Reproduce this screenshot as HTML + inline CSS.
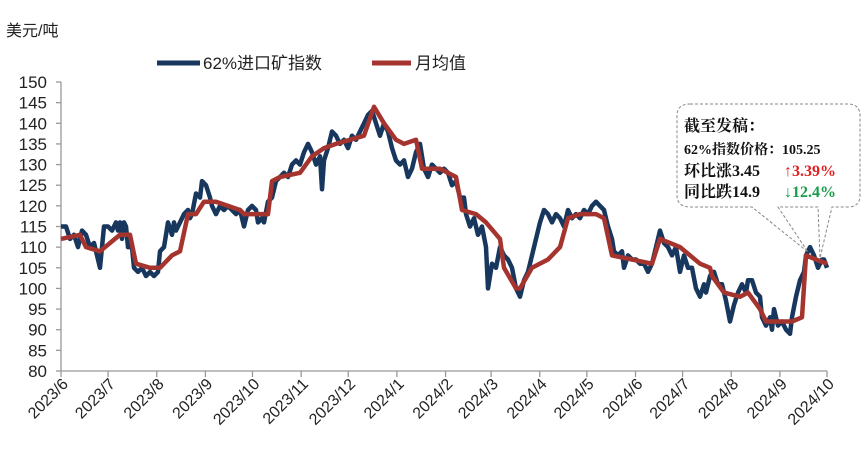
<!DOCTYPE html>
<html><head><meta charset="utf-8"><style>
body{margin:0;background:#fff;}
svg{display:block;font-family:"Liberation Sans","Noto Sans CJK SC",sans-serif;}
</style></head><body>
<svg id="s" width="865" height="457" viewBox="0 0 865 457">
<text x="6" y="36" font-size="16" fill="#222">美元/吨</text>
<line x1="157" y1="63" x2="200" y2="63" stroke="#17375e" stroke-width="5"/>
<text x="203" y="69" font-size="17" fill="#222">62%进口矿指数</text>
<line x1="372" y1="63" x2="411" y2="63" stroke="#a5342f" stroke-width="5"/>
<text x="415" y="69" font-size="17" fill="#222">月均值</text>
<g id="ax" stroke="#999" stroke-width="1.3"></g>
<g id="yl" font-size="17" fill="#222" text-anchor="end"></g>
<g id="xl" font-size="16" fill="#222" text-anchor="end"></g>
<path id="b" fill="none" stroke="#17375e" stroke-width="4.5" stroke-linejoin="round"/>
<path id="r" fill="none" stroke="#a5342f" stroke-width="4.5" stroke-linejoin="round"/>
<path d="M690,104 H848 Q860,104 860,116 V195 Q860,207 848,207 H832 L820,258 L818,207 H778 L808,252 L752,207 H690 Q677,207 677,195 V116 Q677,104 690,104 Z" fill="#fff" stroke="#888" stroke-dasharray="3,2" stroke-width="1"/>
<g font-family="'Liberation Serif','Noto Serif CJK SC',serif" font-weight="bold" font-size="16" fill="#111">
<text x="684" y="131">截至发稿：</text>
<text x="684" y="154" font-size="14">62%指数价格：105.25</text>
<text x="684" y="176">环比涨3.45</text>
<text x="784" y="176" fill="#e02020">↑3.39%</text>
<text x="684" y="197">同比跌14.9</text>
<text x="784" y="197" fill="#1a9a4a">↓12.4%</text>
</g>
</svg>
<script>
const Y=v=>82+(150-v)*289/70;
const ax=document.getElementById('ax'),yl=document.getElementById('yl'),xl=document.getElementById('xl');
let h='<line x1="61" y1="82" x2="61" y2="371"/><line x1="61" y1="371" x2="827" y2="371"/>',t='';
for(let v=80;v<=150;v+=5){const y=Y(v);h+=`<line x1="56" y1="${y}" x2="61" y2="${y}"/>`;t+=`<text x="47" y="${y+6}">${v}</text>`;}
const ms=['2023/6','2023/7','2023/8','2023/9','2023/10','2023/11','2023/12','2024/1','2024/2','2024/3','2024/4','2024/5','2024/6','2024/7','2024/8','2024/9','2024/10'];
const days=[30,31,31,30,31,30,31,31,29,31,30,31,30,31,31,30];let x=61,xs=[61];
for(const d of days){x+=d*766/488;xs.push(x);}
let xt='';xs.forEach((x,i)=>{h+=`<line x1="${x}" y1="371" x2="${x}" y2="377"/>`;xt+=`<text transform="translate(${x+8},${385}) rotate(-45)">${ms[i]}</text>`;});
ax.innerHTML=h;yl.innerHTML=t;xl.innerHTML=xt;
const B=[61,115,66,115,70,112,74,113,78,110,82,114,86,113,90,110,94,111,98,107,100,105,104,115,108,115,112,114,116,116,118,114,120,116,122,112,124,116,126,115,128,110,132,110,134,105,138,104,142,105,146,103,150,104,154,103,158,104,160,109,164,110,168,116,172,113,174,116,176,114,180,116,184,118,188,119,190,117,192,118,196,123,200,122,202,126,206,125,210,122,212,120,216,118,220,120,224,119,228,120,232,119,236,118,240,119,244,115,248,119,252,120,256,119,258,116,262,117,264,116,268,121,272,122,276,126,280,127,284,128,288,127,292,130,296,131,300,130,304,133,308,135,312,133,316,130,320,132,322,124,324,131,328,134,332,138,336,137,340,135,344,136,348,134,352,137,356,136,360,138,364,140,368,142,372,143,376,140,380,137,384,140,388,138,392,134,396,131,400,130,404,131,408,127,412,129,416,133,420,135,424,129,428,127,432,130,436,129,440,128,444,129,448,128,452,125,456,126,460,122,464,122,466,118,470,115,474,117,478,113,482,115,486,110,488,100,492,106,496,105,500,110,504,108,508,107,512,105,516,100,520,98,524,102,528,104,532,108,536,112,540,116,544,119,548,118,552,116,556,118,560,117,564,115,568,119,572,117,576,118,580,117,584,119,588,118,592,120,596,121,600,120,604,119,608,115,612,112,614,109,618,108,622,109,624,105,628,108,632,107,636,107,640,106,644,106,648,104,652,106,656,110,660,114,664,111,668,110,672,108,676,110,680,104,684,108,688,105,692,105,696,100,700,98,704,101,706,99,710,103,714,104,718,101,722,101,726,97,730,92,734,96,738,99,742,101,746,99,748,102,752,102,756,99,760,98,762,93,766,91,770,93,772,90,774,95,778,91,782,92,786,90,790,89,792,93,796,98,800,102,804,104,806,108,810,110,814,108,818,105,822,107,824,107,827,105];
const R=[61,112,80,113,86,110,100,109,110,111,120,113,130,113,136,106,150,105,160,105,172,108,180,109,188,118,196,118,204,121,216,121,228,120,240,119,244,118,256,118,268,118,272,126,280,127,300,128,312,132,324,134,336,135,350,136,364,137,374,144,384,140,396,136,404,135,416,136,422,129,440,129,456,127,462,119,476,118,486,116,500,112,504,105,516,100,520,100,532,105,548,107,560,110,568,117,580,118,596,118,604,117,612,108,632,107,652,106,660,112,680,110,700,106,710,105,712,103,724,99,740,98,748,99,760,95,766,92,780,92,792,92,802,93,806,108,816,107,827,106];
const P=a=>{let d='';for(let i=0;i<a.length;i+=2)d+=(i?'L':'M')+a[i]+','+Y(a[i+1]).toFixed(1);return d;};
document.getElementById('b').setAttribute('d',P(B));document.getElementById('r').setAttribute('d',P(R));
</script>
</body></html>
